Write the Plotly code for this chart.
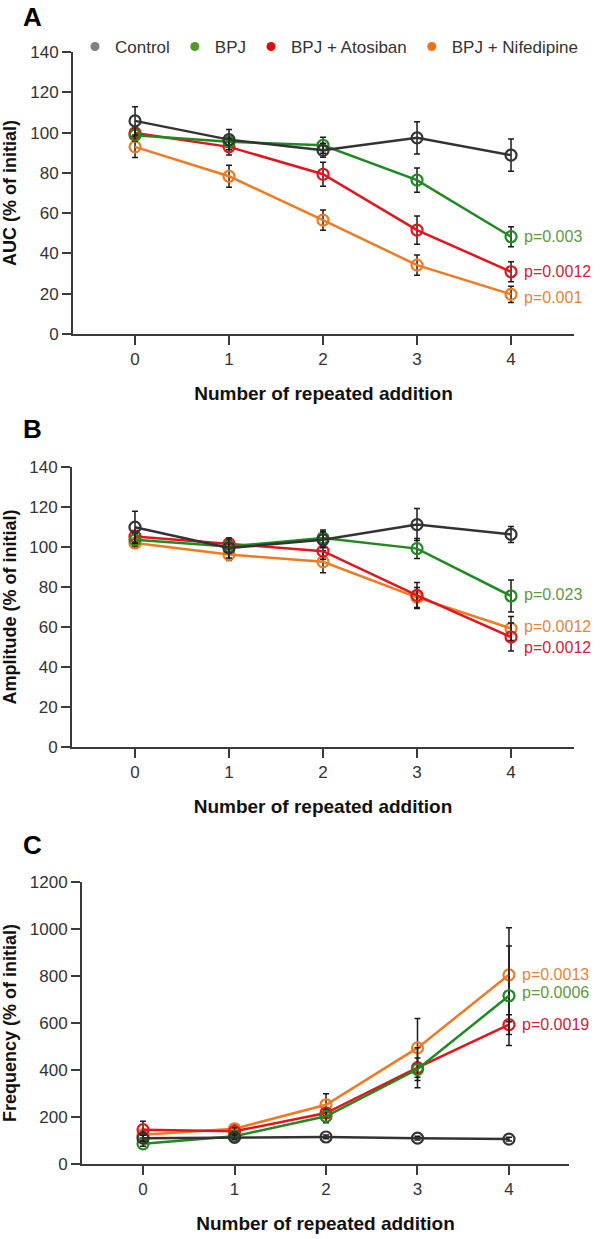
import plotly.graph_objects as go

# ---------------- data ----------------
x_vals = [0, 1, 2, 3, 4]
series_names = ["Control", "BPJ", "BPJ + Atosiban", "BPJ + Nifedipine"]

# Panel A: AUC (% of initial)
auc_control = [105.8, 96.5, 91.2, 97.4, 88.8]
auc_control_err = [7, 5, 3.5, 8, 8]
auc_bpj = [98.7, 95.4, 93.7, 76.4, 48.3]
auc_bpj_err = [3, 2, 4, 6, 5]
auc_ato = [99.8, 92.9, 79.3, 51.6, 30.9]
auc_ato_err = [3, 4, 6, 7, 5]
auc_nif = [92.9, 78.3, 56.5, 34.2, 19.7]
auc_nif_err = [5.3, 5.5, 5, 5, 4]
auc_p = ["p=0.003", "p=0.0012", "p=0.001"]  # BPJ, Atosiban, Nifedipine

# Panel B: Amplitude (% of initial)
amp_control = [109.9, 99.5, 103.6, 111.2, 106.3]
amp_control_err = [8, 5, 4, 8, 4]
amp_bpj = [103.6, 100.3, 104.5, 99.2, 75.5]
amp_bpj_err = [3, 3, 4, 5, 8]
amp_ato = [105.3, 101.7, 97.9, 75.8, 55.0]
amp_ato_err = [3, 2, 4, 6.5, 7]
amp_nif = [102.0, 96.2, 92.6, 74.8, 59.3]
amp_nif_err = [2, 3, 5.5, 5, 6]
amp_p = ["p=0.023", "p=0.0012", "p=0.0012"]  # BPJ, Nifedipine, Atosiban

# Panel C: Frequency (% of initial)
freq_control = [110, 113, 115, 110, 106]
freq_control_err = [12, 10, 8, 8, 8]
freq_bpj = [86, 118, 203, 403, 716]
freq_bpj_err = [10, 10, 27, 48, 212]
freq_ato = [146, 139, 217, 410, 593]
freq_ato_err = [36, 15, 20, 85, 42]
freq_nif = [125, 150, 252, 494, 805]
freq_nif_err = [15, 21, 47, 125, 200]
freq_p = ["p=0.0006", "p=0.0019", "p=0.0013"]  # BPJ, Atosiban, Nifedipine

y_ticks_ab = [0, 20, 40, 60, 80, 100, 120, 140]
y_ticks_c = [0, 200, 400, 600, 800, 1000, 1200]

# ---------------- styling ----------------
FONT = "Arial, 'Liberation Sans', sans-serif"
AXIS_COLOR = "#3a3a3a"
line_colors = {"Control": "#333333", "BPJ": "#1f8a1f",
               "BPJ + Atosiban": "#e4141c", "BPJ + Nifedipine": "#f07a22"}
legend_colors = {"Control": "#808080", "BPJ": "#4e9a2c",
                 "BPJ + Atosiban": "#e00d0d", "BPJ + Nifedipine": "#f0701a"}
p_colors = {"BPJ": "#5c9a44", "BPJ + Atosiban": "#d0223a",
            "BPJ + Nifedipine": "#e8843e"}

W, H = 603, 1239

def px_dom_x(a, b):
    return [a / W, b / W]

def px_dom_y(top, bottom):
    return [1 - bottom / H, 1 - top / H]

def px_x(a):
    return a / W

def px_y(a):
    return 1 - a / H

fig = go.Figure()

panels = [
    dict(xa="x", ya="y",
         data={"Control": (auc_control, auc_control_err), "BPJ": (auc_bpj, auc_bpj_err),
               "BPJ + Atosiban": (auc_ato, auc_ato_err), "BPJ + Nifedipine": (auc_nif, auc_nif_err)},
         p={"BPJ": (auc_p[0], 0), "BPJ + Atosiban": (auc_p[1], 0), "BPJ + Nifedipine": (auc_p[2], -3)}),
    dict(xa="x2", ya="y2",
         data={"Control": (amp_control, amp_control_err), "BPJ": (amp_bpj, amp_bpj_err),
               "BPJ + Atosiban": (amp_ato, amp_ato_err), "BPJ + Nifedipine": (amp_nif, amp_nif_err)},
         p={"BPJ": (amp_p[0], 2), "BPJ + Nifedipine": (amp_p[1], 2), "BPJ + Atosiban": (amp_p[2], -10)}),
    dict(xa="x3", ya="y3",
         data={"Control": (freq_control, freq_control_err), "BPJ": (freq_bpj, freq_bpj_err),
               "BPJ + Atosiban": (freq_ato, freq_ato_err), "BPJ + Nifedipine": (freq_nif, freq_nif_err)},
         p={"BPJ": (freq_p[0], 3), "BPJ + Atosiban": (freq_p[1], 0), "BPJ + Nifedipine": (freq_p[2], 0)}),
]

draw_order = ["BPJ + Nifedipine", "BPJ + Atosiban", "BPJ", "Control"]

annotations = []
for pan in panels:
    for name in draw_order:
        vals, errs = pan["data"][name]
        fig.add_trace(go.Scatter(
            x=x_vals, y=vals, mode="lines+markers", name=name, showlegend=False,
            xaxis=pan["xa"], yaxis=pan["ya"],
            line=dict(color=line_colors[name], width=2.5),
            marker=dict(symbol="circle-open", size=11, color=line_colors[name],
                        line=dict(width=2.2, color=line_colors[name])),
            error_y=dict(type="data", array=errs, visible=True, color="#1a1a1a",
                         thickness=1.5, width=3),
        ))
    for name, (txt, ysh) in pan["p"].items():
        vals, _ = pan["data"][name]
        annotations.append(dict(
            x=x_vals[-1], y=vals[-1], xref=pan["xa"], yref=pan["ya"],
            text=txt, showarrow=False, xanchor="left", yanchor="middle",
            xshift=11, yshift=ysh,
            font=dict(family=FONT, size=16, color=p_colors[name])))

# legend entries (filled dots)
for name in series_names:
    fig.add_trace(go.Scatter(
        x=[None], y=[None], mode="markers", name=name, showlegend=True,
        marker=dict(symbol="circle", size=9, color=legend_colors[name]),
    ))

# panel letters
for letter, ypx in [("A", 17), ("B", 429), ("C", 845)]:
    annotations.append(dict(
        x=px_x(32), y=px_y(ypx), xref="paper", yref="paper", text="<b>%s</b>" % letter,
        showarrow=False, xanchor="center", yanchor="middle",
        font=dict(family=FONT, size=26, color="#000")))

tick_font = dict(family=FONT, size=17, color="#333")
ytitle_font = dict(family=FONT, size=18, color="#111")
xtitle_font = dict(family=FONT, size=19, color="#111")

def xaxis_cfg(dom, rng, anchor):
    return dict(domain=dom, range=rng, tickvals=x_vals, ticktext=[str(v) for v in x_vals],
                anchor=anchor, automargin=False,
                showline=True, linecolor=AXIS_COLOR, linewidth=2,
                ticks="outside", ticklen=9, tickwidth=2, tickcolor=AXIS_COLOR,
                showgrid=False, zeroline=False, tickfont=tick_font,
                title=dict(text="<b>Number of repeated addition</b>", font=xtitle_font, standoff=18))

def yaxis_cfg(dom, rng, ticks, title, anchor):
    return dict(domain=dom, range=rng, tickvals=ticks, anchor=anchor, automargin=False,
                showline=True, linecolor=AXIS_COLOR, linewidth=2,
                ticks="outside", ticklen=9, tickwidth=2, tickcolor=AXIS_COLOR,
                showgrid=False, zeroline=False, tickfont=tick_font,
                title=dict(text="<b>%s</b>" % title, font=ytitle_font, standoff=22))

fig.update_layout(
    width=W, height=H,
    margin=dict(l=0, r=0, t=0, b=0, autoexpand=False),
    paper_bgcolor="white", plot_bgcolor="white",
    font=dict(family=FONT),
    showlegend=True,
    legend=dict(orientation="h", x=px_x(75), y=px_y(47), xanchor="left", yanchor="middle",
                font=dict(family=FONT, size=17, color="#333"), itemwidth=30,
                bgcolor="rgba(0,0,0,0)", borderwidth=0),
    xaxis=xaxis_cfg(px_dom_x(73, 574), [-0.66, 4.67], "y"),
    yaxis=yaxis_cfg(px_dom_y(52, 334), [0, 140], y_ticks_ab, "AUC (% of initial)", "x"),
    xaxis2=xaxis_cfg(px_dom_x(72, 574), [-0.67, 4.67], "y2"),
    yaxis2=yaxis_cfg(px_dom_y(467, 747), [0, 140], y_ticks_ab, "Amplitude (% of initial)", "x2"),
    xaxis3=xaxis_cfg(px_dom_x(82, 569), [-0.667, 4.656], "y3"),
    yaxis3=yaxis_cfg(px_dom_y(882, 1164), [0, 1200], y_ticks_c, "Frequency (% of initial)", "x3"),
    annotations=annotations,
)

# remove the default 8px page margin so the figure fills the window exactly
fig.write_html("out.html", config={"displayModeBar": False},
               post_script="document.body.style.margin='0px';document.body.style.overflow='hidden';")
